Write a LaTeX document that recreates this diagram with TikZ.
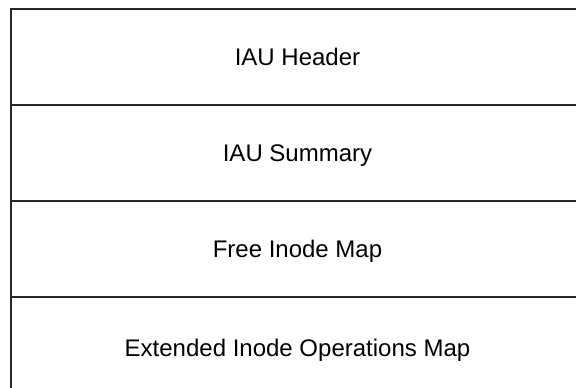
\documentclass[tikz,border=0pt]{standalone}
\usepackage{fontspec}
\setmainfont{Liberation Sans}
\begin{document}
\begin{tikzpicture}[x=1pt,y=-1pt,
  row/.style={draw=black!85, line width=1.8pt, rectangle, minimum width=573pt,
    inner sep=0pt, font=\fontsize{24}{28}\selectfont, text height=17.2pt, text depth=0pt},
]
\useasboundingbox (0,0) rectangle (576,388);
\clip (0,0) rectangle (576,388);
\node[row, minimum height=96pt] (hdr) at (297.5,57) {IAU Header};
\node[row, minimum height=96pt] (sum) at (297.5,153) {IAU Summary};
\node[row, minimum height=96pt] (fim) at (297.5,249) {Free Inode Map};
\node[row, minimum height=102pt] (eiom) at (297.5,348) {Extended Inode Operations Map};
\end{tikzpicture}
\end{document}
